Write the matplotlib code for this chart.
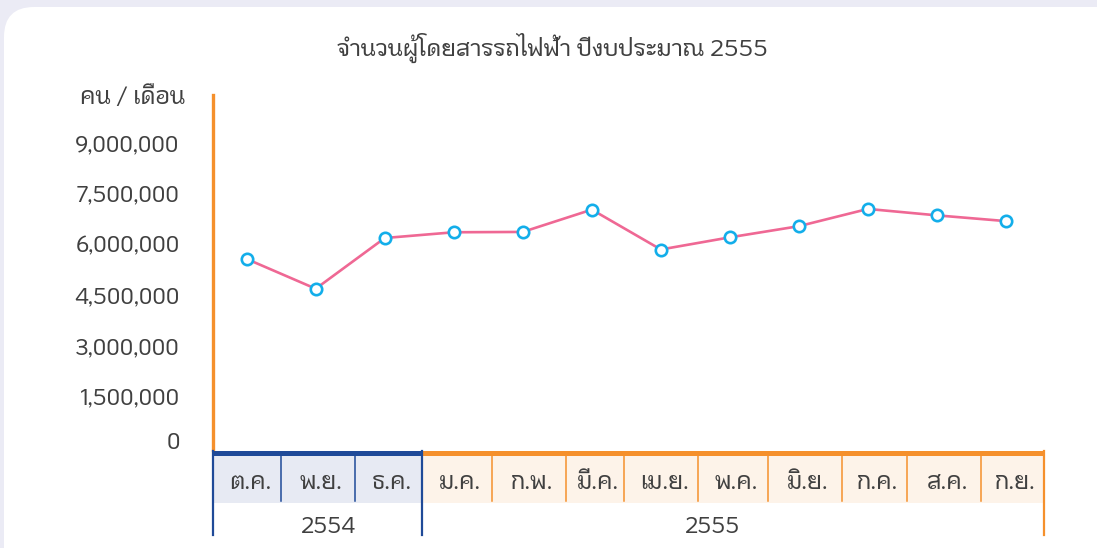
import matplotlib
matplotlib.use('Agg')
import matplotlib.pyplot as plt
from matplotlib.patches import FancyBboxPatch, Rectangle
from matplotlib.transforms import IdentityTransform, ScaledTranslation
from matplotlib.ticker import FuncFormatter

plt.rcParams['font.family'] = ['KoHo', 'DejaVu Sans']
plt.rcParams['font.weight'] = 'medium'

# data
months = ['ต.ค.', 'พ.ย.', 'ธ.ค.', 'ม.ค.', 'ก.พ.', 'มี.ค.',
          'เม.ย.', 'พ.ค.', 'มิ.ย.', 'ก.ค.', 'ส.ค.', 'ก.ย.']
passengers = [5650000, 4770000, 6270000, 6440000, 6450000, 7110000,
              5930000, 6290000, 6620000, 7130000, 6940000, 6770000]
years = ['2554', '2555']
n_first_year = 3
title = 'จำนวนผู้โดยสารรถไฟฟ้า ปีงบประมาณ 2555'
ylabel = 'คน / เดือน'
yticks = [0, 1500000, 3000000, 4500000, 6000000, 7500000, 9000000]

# layout (pixels)
W, H = 1097, 548
ax_left, ax_right, ax_top, ax_bottom = 213, 1044, 95, 450
tbl_bottom = 535
# irregular table cell edges, in category units
cell_edges = [-0.488, 0.497, 1.569, 2.540, 3.554, 4.626, 5.466,
              6.538, 7.552, 8.624, 9.566, 10.638, 11.551]
year_pos = [1.19, 6.755]

blue = '#1f4a98'
orange = '#f5902c'
blue_fill = '#e7eaf3'
orange_fill = '#fdf3e9'
txt = '#404040'

fig = plt.figure(figsize=(W / 100, H / 100), dpi=100)
fig.patch.set_facecolor('#ebebf5')
card = FancyBboxPatch((4, -60), 1130, H - 7 + 60,
                      boxstyle='round,pad=0,rounding_size=30',
                      transform=IdentityTransform(), facecolor='white',
                      edgecolor='none', zorder=-5)
fig.patches.append(card)

ax = fig.add_axes([ax_left / W, 1 - ax_bottom / H,
                   (ax_right - ax_left) / W, (ax_bottom - ax_top) / H])
ax.patch.set_alpha(0)
x = list(range(len(months)))
ax.plot(x, passengers, color='#ef6894', lw=1.9, marker='o', ms=8.2,
        mfc='white', mec='#13aeea', mew=1.9, zorder=3, clip_on=False)
ax.set_xlim(cell_edges[0], cell_edges[-1])
ax.set_ylim(0, 10500000)
for s in ['top', 'right', 'bottom']:
    ax.spines[s].set_visible(False)
ax.spines['left'].set_color(orange)
ax.spines['left'].set_linewidth(2.4)
ax.set_xticks([])
ax.set_yticks(yticks)
ax.yaxis.set_major_formatter(FuncFormatter(lambda v, p: f'{int(v):,}'))
ax.tick_params(axis='y', direction='in', length=2.5, width=1, color='white',
               labelsize=16, labelcolor=txt, pad=24)
for v, lab in zip(yticks, ax.get_yticklabels()):
    dy = 9 if v == 0 else 3
    lab.set_transform(lab.get_transform() + ScaledTranslation(0, dy / 100, fig.dpi_scale_trans))

fig.text(552 / W, 1 - 48 / H, title, ha='center', va='center',
         fontsize=16.7, color=txt)
fig.text(185 / W, 1 - 98 / H, ylabel, ha='right', va='center',
         fontsize=17, color=txt)

# month / year table
tb = fig.add_axes([ax_left / W, 1 - tbl_bottom / H,
                   (ax_right - ax_left) / W, (tbl_bottom - 451) / H])
tb.set_xlim(cell_edges[0], cell_edges[-1])
tb.set_ylim(tbl_bottom - 451, 0)
tb.axis('off')
for i, m in enumerate(months):
    first = i < n_first_year
    x0, x1 = cell_edges[i], cell_edges[i + 1]
    tb.add_patch(Rectangle((x0, 4.5), x1 - x0, 47.5,
                           facecolor=blue_fill if first else orange_fill,
                           edgecolor='none', zorder=1))
    tb.text((x0 + x1) / 2 + 0.045, 32, m, ha='center', va='center',
            fontsize=17, color=txt, zorder=3)
    if 0 < i and i != n_first_year:
        tb.plot([x0, x0], [5, 50], color=blue if first else orange,
                lw=1.1, zorder=2, clip_on=False)
split = cell_edges[n_first_year]
tb.add_patch(Rectangle((cell_edges[0], 0), split - cell_edges[0], 4.5,
                       facecolor=blue, edgecolor='none', zorder=4, clip_on=False))
tb.add_patch(Rectangle((split, 0), cell_edges[-1] - split + 0.02, 4.5,
                       facecolor=orange, edgecolor='none', zorder=4, clip_on=False))
for xe, c in [(cell_edges[0], blue), (split, blue), (cell_edges[-1], orange)]:
    tb.plot([xe, xe], [0, tbl_bottom - 451], color=c, lw=1.6, zorder=5,
            clip_on=False)
for yp, yr in zip(year_pos, years):
    tb.text(yp, 76, yr, ha='center', va='center', fontsize=16, color=txt)

fig.savefig('out.png', dpi=100, facecolor=fig.get_facecolor())
